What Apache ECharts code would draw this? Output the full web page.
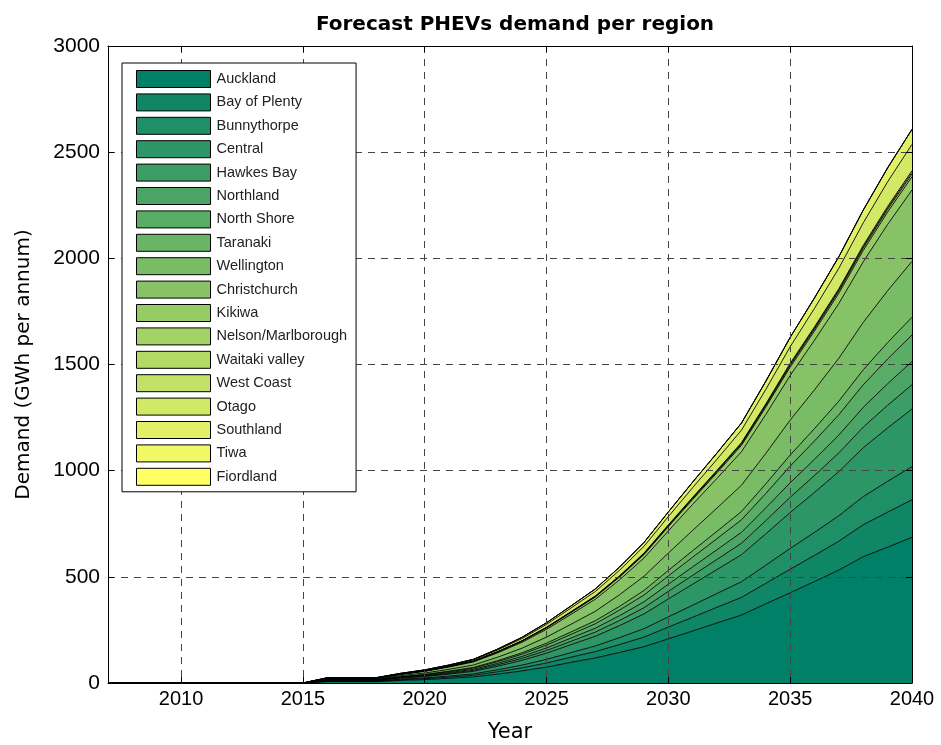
<!DOCTYPE html>
<html>
<head>
<meta charset="utf-8">
<script src="https://cdn.jsdelivr.net/npm/echarts@6/dist/echarts.min.js"></script>
<style>
html,body{margin:0;padding:0;background:#fff;}
#chart{width:941px;height:745px;}
</style>
</head>
<body>
<div id="chart"></div>
<script>
// ---- data ----
const years = [2007,2008,2009,2010,2011,2012,2013,2014,2015,2016,2017,2018,2019,2020,2021,2022,2023,2024,2025,2026,2027,2028,2029,2030,2031,2032,2033,2034,2035,2036,2037,2038,2039,2040];
const regions = ['Auckland','Bay of Plenty','Bunnythorpe','Central','Hawkes Bay','Northland','North Shore','Taranaki','Wellington','Christchurch','Kikiwa','Nelson/Marlborough','Waitaki valley','West Coast','Otago','Southland','Tiwa','Fiordland'];
const yTicks = [0,500,1000,1500,2000,2500,3000];

const auckland     = [0,0,0,0,0,0,0,0,0, 6.5,6.5,6.5,12,16,22,29,42,57,75,97,118,144,171,208,245,283,320,373,425,478,532,595,640,686];
const bayOfPlenty  = [0,0,0,0,0,0,0,0,0, 1.7,1.7,1.7,3.1,4.2,5.8,7.6,10.9,14.6,19.2,24.5,29.9,37.1,45.2,55.1,64.6,73.8,83.3,96.6,110.8,123.1,136,150.4,164.6,177.1];
const bunnythorpe  = [0,0,0,0,0,0,0,0,0, 1.5,1.5,1.5,2.7,3.7,5.1,6.7,9.6,12.9,17.0,21.6,26.4,32.7,39.9,48.6,57.0,65.1,73.5,85.2,97.8,108.6,120,132.7,145.2,156.3];
const central      = [0,0,0,0,0,0,0,0,0, 2.6,2.6,2.6,4.7,6.4,8.8,11.6,16.6,22.4,29.4,37.4,45.8,56.7,69.2,84.2,98.8,112.8,127.4,147.7,169.5,188.2,208,230,251.7,270.9];
const hawkesBay    = [0,0,0,0,0,0,0,0,0, 1.1,1.1,1.1,2.0,2.7,3.7,4.9,7.0,9.5,12.5,15.8,19.4,24.0,29.3,35.6,41.8,47.7,53.9,62.5,71.7,79.6,88,97.3,106.5,114.6];
const northland    = [0,0,0,0,0,0,0,0,0, 1.05,1.05,1.05,1.9,2.6,3.6,4.7,6.7,9.0,11.9,15.1,18.5,22.9,27.9,34.0,39.9,45.6,51.5,59.6,68.5,76.0,84,92.9,101.6,109.4];
const northShore   = [0,0,0,0,0,0,0,0,0, 1.2,1.2,1.2,2.2,3.0,4.1,5.4,7.7,10.3,13.6,17.3,21.1,26.2,31.9,38.9,45.6,52.1,58.8,68.2,78.2,86.9,96,106.2,116.2,125.0];
const taranaki     = [0,0,0,0,0,0,0,0,0, 0.8,0.8,0.8,1.4,2.0,2.7,3.6,5.1,6.9,9.1,11.5,14.1,17.4,21.3,25.9,30.4,34.7,39.2,45.4,52.2,57.9,64,70.8,77.4,83.4];
const wellington   = [0,0,0,0,0,0,0,0,0, 2.5,2.5,2.5,4.5,6.3,8.6,11.3,16.2,21.7,28.6,36.4,44.4,55.0,67.2,81.8,96.0,109.6,123.7,143.4,164.6,182.8,202,223.4,244.4,263.1];
const christchurch = [0,0,0,0,0,0,0,0,0, 3.2,3.2,3.2,5.8,8.0,11.0,14.4,20.6,27.7,36.5,46.4,56.8,70.3,85.8,104.5,122.6,140.0,158.0,183.2,210.3,233.5,258,285.3,312.2,336.0];
const kikiwa       = [0,0,0,0,0,0,0,0,0, 0.6,0.6,0.6,1.1,1.5,2.0,2.7,3.8,5.2,6.8,8.6,10.6,13.1,16.0,19.4,22.8,26.0,29.4,34.1,39.1,43.4,48,53.1,58.1,62.5];
const nelson       = [0,0,0,0,0,0,0,0,0, 0.13,0.13,0.13,0.23,0.31,0.43,0.56,0.8,1.1,1.4,1.8,2.2,2.7,3.3,4.1,4.8,5.4,6.1,7.1,8.2,9.1,10,11.1,12.1,13.0];
const waitaki      = [0,0,0,0,0,0,0,0,0, 0.08,0.08,0.08,0.14,0.19,0.26,0.34,0.5,0.6,0.8,1.1,1.3,1.6,2.0,2.4,2.9,3.3,3.7,4.3,4.9,5.4,6,6.6,7.3,7.8];
const westCoast    = [0,0,0,0,0,0,0,0,0, 0.07,0.07,0.07,0.13,0.18,0.25,0.33,0.48,0.65,0.85,1.08,1.3,1.6,2.0,2.4,2.8,3.2,3.6,4.2,4.8,5.3,5.9,6.5,7.1,7.7];
const otago        = [0,0,0,0,0,0,0,0,0, 1.2,1.2,1.2,2.2,3.0,4.1,5.4,7.7,10.3,13.6,17.3,21.1,26.2,31.9,38.9,45.6,52.1,58.8,68.2,78.2,86.9,96,106.2,116.2,124.0];
const southland    = [0,0,0,0,0,0,0,0,0, 0.7,0.7,0.7,1.2,1.7,2.3,3.0,4.3,5.8,7.6,9.7,11.9,14.7,18.0,21.9,25.7,29.3,33.1,38.3,44.0,48.9,54,59.7,65.3,70.3];
const tiwa         = [0,0,0,0,0,0,0,0,0, 0,0,0,0,0,0,0,0.1,0.1,0.1,0.1,0.1,0.2,0.2,0.2,0.2,0.3,0.3,0.3,0.3,0.4,0.4,0.4,0.5,0.5];
const fiordland    = [0,0,0,0,0,0,0,0,0, 0,0,0,0,0,0,0,0,0,0.1,0.1,0.1,0.1,0.1,0.1,0.2,0.2,0.2,0.2,0.2,0.3,0.3,0.3,0.3,0.3];

const seriesData = [auckland,bayOfPlenty,bunnythorpe,central,hawkesBay,northland,northShore,taranaki,wellington,christchurch,kikiwa,nelson,waitaki,westCoast,otago,southland,tiwa,fiordland];

// ---- style ----
const palette = ['#008066','#0f8766','#1e8f66','#2d9666','#3c9e66','#4ba566','#5aad66','#69b466','#78bc66','#87c366','#96cb66','#a5d266','#b4da66','#c3e166','#d2e966','#e1f066','#f0f866','#ffff66'];
const FONT = 'Liberation Sans, Arial, sans-serif';
const WIDE = 'DejaVu Sans, sans-serif';

const chart = echarts.init(document.getElementById('chart'), null, {renderer:'canvas'});
const every5 = (idx, val) => Number(val) % 5 === 0;

const series = regions.map((name, i) => ({
  name: name,
  type: 'line',
  stack: 'total',
  data: seriesData[i],
  showSymbol: false,
  symbol: 'none',
  smooth: false,
  lineStyle: {color: '#000', width: 0.9},
  itemStyle: {color: palette[i]},
  areaStyle: {color: palette[i], opacity: 1},
  emphasis: {disabled: true},
  xAxisIndex: 0,
  yAxisIndex: 0,
  z: 2
}));

chart.setOption({
  animation: false,
  backgroundColor: '#fff',
  title: {
    text: 'Forecast PHEVs demand per region',
    left: 510, top: 10, textAlign: 'center',
    textStyle: {fontFamily: WIDE, fontSize: 20, fontWeight: 'bold', color: '#000'}
  },
  grid: {left: 108, right: 29, top: 46, bottom: 62, containLabel: false, outerBoundsMode: 'none'},
  legend: {
    orient: 'vertical',
    left: 122, top: 63,
    padding: [7, 9, 6, 14],
    itemWidth: 74, itemHeight: 17, itemGap: 5.4,
    icon: 'rect',
    backgroundColor: '#fff',
    borderColor: '#000', borderWidth: 1,
    itemStyle: {borderColor: '#000', borderWidth: 1},
    textStyle: {fontFamily: FONT, fontSize: 14.5, color: '#222', padding: [0,0,0,1]},
    data: regions,
    selectedMode: false,
    z: 10
  },
  xAxis: [{
    type: 'category',
    data: years,
    boundaryGap: false,
    name: 'Year', nameLocation: 'middle', nameGap: 39,
    nameTextStyle: {fontFamily: WIDE, fontSize: 21, color: '#000'},
    axisLine: {show: true, lineStyle: {color: '#000', width: 1}},
    axisTick: {show: true, inside: true, length: 6, interval: every5, lineStyle: {color: '#000'}},
    axisLabel: {interval: every5, fontFamily: FONT, fontSize: 20, color: '#000', margin: 6},
    splitLine: {show: true, interval: every5, lineStyle: {color: '#444', type: [7, 6], width: 1}},
    z: 5
  }, {
    type: 'category',
    data: years,
    boundaryGap: false,
    position: 'top',
    axisLine: {show: true, onZero: false, lineStyle: {color: '#000', width: 1}},
    axisTick: {show: true, inside: true, length: 6, interval: every5, lineStyle: {color: '#000'}},
    axisLabel: {show: false},
    splitLine: {show: false},
    z: 5
  }],
  yAxis: [{
    type: 'value',
    min: 0, max: 3000, interval: 500,
    name: 'Demand (GWh per annum)', nameLocation: 'middle', nameGap: 74,
    nameTextStyle: {fontFamily: WIDE, fontSize: 20, color: '#000'},
    axisLine: {show: true, lineStyle: {color: '#000', width: 1}},
    axisTick: {show: true, inside: true, length: 6, lineStyle: {color: '#000'}},
    axisLabel: {fontFamily: FONT, fontSize: 21, color: '#000', margin: 8,
      formatter: v => yTicks.includes(v) ? String(v) : ''},
    splitLine: {show: true, lineStyle: {color: '#444', type: [7, 6], width: 1}},
    z: 5
  }, {
    type: 'value',
    min: 0, max: 3000, interval: 500,
    position: 'right',
    axisLine: {show: true, onZero: false, lineStyle: {color: '#000', width: 1}},
    axisTick: {show: true, inside: true, length: 6, lineStyle: {color: '#000'}},
    axisLabel: {show: false},
    splitLine: {show: false},
    z: 5
  }],
  series: series
});
</script>
</body>
</html>
